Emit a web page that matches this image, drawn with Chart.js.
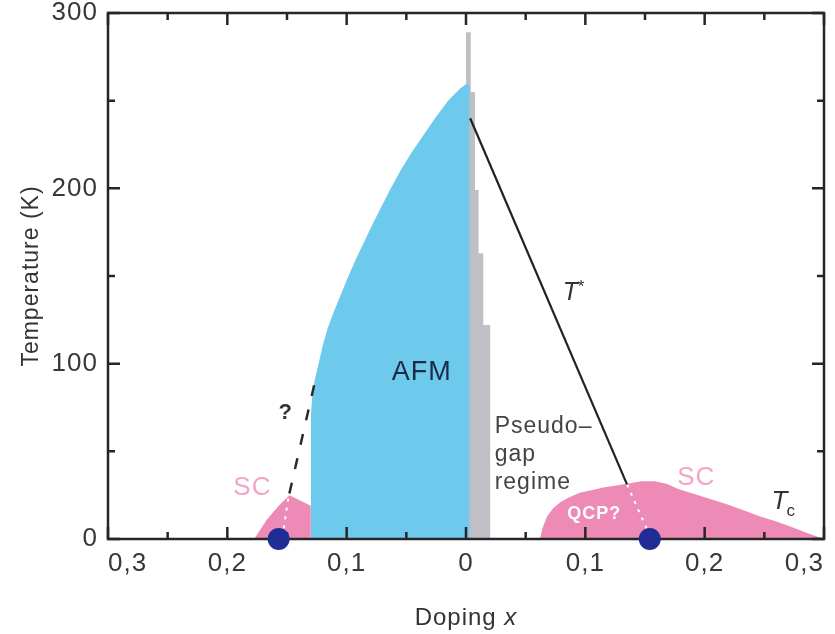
<!DOCTYPE html>
<html>
<head>
<meta charset="utf-8">
<script src="https://cdn.jsdelivr.net/npm/chart.js@4.4.1/dist/chart.umd.min.js"></script>
<style>
  html, body { margin: 0; padding: 0; background: #fff; }
  #wrap { width: 835px; height: 634px; }
</style>
</head>
<body>
<div id="wrap"><canvas id="phaseChart"></canvas></div>
<script>
// doping axis: electron side is negative (labelled 0,3 .. 0,1), hole side positive
const xTickValues = [-0.3, -0.2, -0.1, 0, 0.1, 0.2, 0.3];
const xTickLabels = ['0,3', '0,2', '0,1', '0', '0,1', '0,2', '0,3'];
const xMinorTicks = [-0.25, -0.15, -0.05, 0.05, 0.15, 0.25];
const yTickValues = [0, 100, 200, 300];
const yTickLabels = ['0', '100', '200', '300'];
const yMinorTicks = [50, 150, 250];

// antiferromagnet dome
const afmDoping = [-0.13, -0.13, -0.129, -0.127, -0.1235, -0.1202, -0.116, -0.1105, -0.1045, -0.0985, -0.092, -0.085, -0.078, -0.0705, -0.063, -0.055, -0.046, -0.036, -0.026, -0.015, -0.005, 0.001, 0.003, 0.003];
const afmTemp = [0, 70, 80, 90, 100, 110, 120, 130, 140, 150, 160, 170, 180, 190, 200, 210, 220, 230, 240, 250, 257, 260, 258, 0];

// grey sliver on the hole side
const pgDoping = [0, 0, 0.004, 0.004, 0.0075, 0.0075, 0.0105, 0.0105, 0.0145, 0.0145, 0.0205, 0.0205];
const pgTemp = [0, 289, 289, 255, 255, 199, 199, 163, 163, 122, 122, 0];

// superconducting domes
const scElecDoping = [-0.1775, -0.167, -0.157, -0.148, -0.139, -0.13, -0.13];
const scElecTemp = [0, 11, 19, 25, 22, 19, 0];
const scHoleDoping = [0.062, 0.064, 0.068, 0.073, 0.079, 0.087, 0.096, 0.106, 0.116, 0.126, 0.135, 0.147, 0.158, 0.168, 0.178, 0.19, 0.204, 0.218, 0.232, 0.246, 0.26, 0.274, 0.2875, 0.3];
const scHoleTemp = [0, 6, 13, 17.5, 21, 24, 26.5, 28, 29.5, 30.5, 31.5, 33, 33, 31.5, 28.5, 26, 23, 20, 16.5, 13, 10, 6.5, 3, 0];

// crossover lines
const tStarDoping = [0.0035, 0.135];
const tStarTemp = [240, 31];
const tStarQcpDoping = [0.135, 0.152];
const tStarQcpTemp = [31, 5];
const elecEdgeDoping = [-0.148, -0.1265];
const elecEdgeTemp = [26, 90];
const elecQcpDoping = [-0.149, -0.153];
const elecQcpTemp = [23, 5];

// quantum critical points
const qcpDoping = [-0.157, 0.154];
const qcpTemp = [0, 0];

const FONT = "'Liberation Sans', Arial, Helvetica, sans-serif";

const notes = [
  { text: 'AFM', x: -0.037, y: 95, color: '#1c2a48', font: '27px ' },
  { text: 'Pseudo–', x: 0.024, y: 64, color: '#444', font: '23px ', align: 'left' },
  { text: 'gap', x: 0.024, y: 48, color: '#444', font: '23px ', align: 'left' },
  { text: 'regime', x: 0.024, y: 32, color: '#444', font: '23px ', align: 'left' },
  { text: 'SC', x: 0.193, y: 35, color: '#f2a5c6', font: '26px ' },
  { text: 'SC', x: -0.179, y: 29, color: '#f2a5c6', font: '26px ' },
  { text: 'QCP?', x: 0.1075, y: 14, color: '#ffffff', font: 'bold 18px ' },
  { text: '?', x: -0.151, y: 72, color: '#333', font: 'bold 22px ' }
];

function pts(xs, ys) {
  return xs.map((x, i) => ({ x: x, y: ys[i] }));
}

function area(xs, ys, color) {
  return {
    data: pts(xs, ys), backgroundColor: color, borderWidth: 0,
    fill: 'origin', pointRadius: 0, tension: 0
  };
}

function line(xs, ys, color, width, dash) {
  return {
    data: pts(xs, ys), borderColor: color, borderWidth: width,
    borderDash: dash || [], fill: false, pointRadius: 0
  };
}

const frameTicks = {
  id: 'frameTicks',
  beforeDraw(chart) {
    if ('letterSpacing' in chart.ctx) chart.ctx.letterSpacing = '1px';
  },
  beforeDatasetDraw(chart, args) {
    if (args.index !== 0) return; // draw just before the QCP dots
    const { ctx, chartArea: a, scales: { x, y } } = chart;
    ctx.save();
    ctx.strokeStyle = '#262626';
    ctx.lineWidth = 2.5;
    ctx.beginPath();
    const vt = (v, len) => {
      const px = x.getPixelForValue(v);
      ctx.moveTo(px, a.bottom); ctx.lineTo(px, a.bottom - len);
      ctx.moveTo(px, a.top); ctx.lineTo(px, a.top + len);
    };
    const ht = (v, len) => {
      const py = y.getPixelForValue(v);
      ctx.moveTo(a.left, py); ctx.lineTo(a.left + len, py);
      ctx.moveTo(a.right, py); ctx.lineTo(a.right - len, py);
    };
    xTickValues.forEach(v => vt(v, 12));
    xMinorTicks.forEach(v => vt(v, 7));
    yTickValues.forEach(v => ht(v, 12));
    yMinorTicks.forEach(v => ht(v, 7));
    ctx.stroke();
    ctx.strokeRect(a.left, a.top, a.right - a.left, a.bottom - a.top);
    ctx.restore();
  },
  afterDatasetsDraw(chart) {
    const { ctx, chartArea: a, scales: { x, y } } = chart;
    ctx.save();
    ctx.textBaseline = 'middle';
    notes.forEach(n => {
      ctx.font = n.font + FONT;
      ctx.fillStyle = n.color;
      ctx.textAlign = n.align || 'center';
      ctx.fillText(n.text, x.getPixelForValue(n.x), y.getPixelForValue(n.y));
    });

    // T* and Tc with italic T
    ctx.fillStyle = '#333';
    ctx.textAlign = 'left';
    ctx.font = 'italic 25px ' + FONT;
    let px = x.getPixelForValue(0.081), py = y.getPixelForValue(140);
    ctx.fillText('T', px, py);
    ctx.font = '17px ' + FONT;
    ctx.fillText('*', px + 15, py - 6);
    ctx.font = 'italic 26px ' + FONT;
    px = x.getPixelForValue(0.256); py = y.getPixelForValue(21);
    ctx.fillText('T', px, py);
    ctx.font = '17px ' + FONT;
    ctx.fillText('c', px + 15, py + 9);

    // x axis title with italic x
    ctx.fillStyle = '#333';
    ctx.font = '24px ' + FONT;
    const w1 = ctx.measureText('Doping ').width;
    ctx.font = 'italic 24px ' + FONT;
    const w2 = ctx.measureText('x').width;
    const cx = (a.left + a.right) / 2 - (w1 + w2) / 2;
    const ty = a.bottom + 79;
    ctx.font = '24px ' + FONT;
    ctx.fillText('Doping ', cx, ty);
    ctx.font = 'italic 24px ' + FONT;
    ctx.fillText('x', cx + w1, ty);
    ctx.restore();
  }
};

const chart = new Chart(document.getElementById('phaseChart'), {
  type: 'line',
  data: {
    datasets: [
      {
        data: pts(qcpDoping, qcpTemp), showLine: false, pointRadius: 11,
        pointBackgroundColor: '#1f2d94', pointBorderWidth: 0, clip: false
      },
      line(tStarQcpDoping, tStarQcpTemp, '#ffffff', 2, [3, 6]),
      line(elecQcpDoping, elecQcpTemp, '#ffffff', 2, [3, 6]),
      line(tStarDoping, tStarTemp, '#222222', 2.2),
      line(elecEdgeDoping, elecEdgeTemp, '#2a2a2a', 2.5, [11, 14]),
      area(scHoleDoping, scHoleTemp, '#ee8ab6'),
      area(scElecDoping, scElecTemp, '#ee8ab6'),
      area(afmDoping, afmTemp, '#6dcaec'),
      area(pgDoping, pgTemp, '#bfbfc5')
    ]
  },
  options: {
    responsive: true,
    maintainAspectRatio: false,
    animation: false,
    events: [],
    layout: { padding: { top: 13, right: 8, left: 0, bottom: 0 } },
    plugins: { legend: { display: false }, tooltip: { enabled: false } },
    scales: {
      x: {
        type: 'linear', min: -0.3, max: 0.3,
        afterBuildTicks: s => { s.ticks = xTickValues.map(v => ({ value: v })); },
        afterFit: s => { s.height = 95; s.paddingLeft = 0; s.paddingRight = 0; },
        grid: { display: false, drawTicks: false },
        border: { display: false },
        ticks: {
          align: 'inner', padding: 9, color: '#383838',
          font: { size: 26, family: FONT },
          callback: (v, i) => xTickLabels[i]
        }
      },
      y: {
        type: 'linear', min: 0, max: 300,
        afterBuildTicks: s => { s.ticks = yTickValues.map(v => ({ value: v })); },
        afterFit: s => { s.width = 108; s.paddingTop = 0; s.paddingBottom = 0; },
        grid: { display: false, drawTicks: false },
        border: { display: false },
        ticks: {
          padding: 10, color: '#383838',
          font: { size: 26, family: FONT },
          callback: (v, i) => yTickLabels[i]
        },
        title: {
          display: true, text: 'Temperature (K)', color: '#333',
          font: { size: 23, family: FONT }, padding: { top: 18, bottom: 0 }
        }
      }
    }
  },
  plugins: [frameTicks]
});
</script>
</body>
</html>
